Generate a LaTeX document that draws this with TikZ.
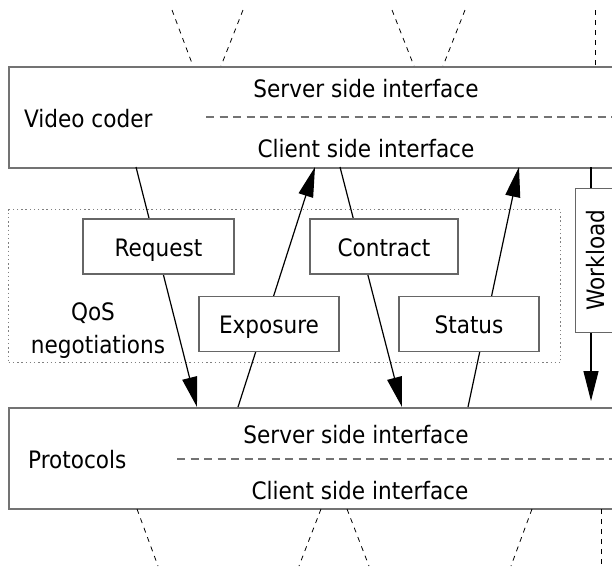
\documentclass[tikz,border=0pt]{standalone}
\usepackage{fontspec}
\setmainfont{DejaVu Sans Condensed}
\usetikzlibrary{arrows.meta}

\tikzset{
  layerbox/.style={draw=black!55, line width=1.5pt, fill=white, anchor=north west,
    minimum width=640pt, minimum height=101pt, inner sep=0pt},
  txt/.style={font=\fontsize{24}{28}\selectfont, anchor=base, inner sep=0pt},
  msgbox/.style={draw=black!60, line width=1.3pt, fill=white,
    font=\fontsize{24}{28}\selectfont, minimum height=55pt,
    text height=21pt, text depth=2pt, inner sep=0pt},
  msgflow/.style={line width=1.2pt, -{Triangle[length=30pt,width=15pt]}},
  divider/.style={draw=black!55, line width=1.2pt, dash pattern=on 8pt off 5.5pt},
  stubline/.style={line width=0.8pt, dash pattern=on 5pt off 5pt},
  qosgroup/.style={draw=black!50, line width=1.4pt, dash pattern=on 1.4pt off 2.8pt},
}

\begin{document}
\begin{tikzpicture}[x=1pt,y=-1pt]
\useasboundingbox (0,0) rectangle (612,566);
\begin{scope}
\clip (0,0) rectangle (612,566);

% upper and lower layers
\node[layerbox] (coder) at (8,66) {};
\node[layerbox] (proto) at (8,407) {};

% connections continuing above the coder and below the protocols
\coordinate (ta1) at (172,10);  \coordinate (tb1) at (193,66);
\coordinate (ta2) at (243,10);  \coordinate (tb2) at (221,66);
\coordinate (ta3) at (392,10);  \coordinate (tb3) at (414,66);
\coordinate (ta4) at (465,10);  \coordinate (tb4) at (443,66);
\coordinate (ta5) at (595,10);  \coordinate (tb5) at (595,66);
\foreach \i in {1,...,5} \draw[stubline] (ta\i) -- (tb\i);

\coordinate (ba1) at (137,509); \coordinate (bb1) at (158,566);
\coordinate (ba2) at (321,509); \coordinate (bb2) at (299,566);
\coordinate (ba3) at (347,509); \coordinate (bb3) at (369,566);
\coordinate (ba4) at (532,509); \coordinate (bb4) at (511,566);
\coordinate (ba5) at (601,509); \coordinate (bb5) at (601,566);
\foreach \i in {1,...,5} \draw[stubline] (ba\i) -- (bb\i);

% layer texts
\node[txt] (cs) at (366,97) {Server side interface};
\node[txt, anchor=base west] (cn) at (24,127) {Video coder};
\node[txt] (cc) at (366,157) {Client side interface};
\draw[divider] (206,117) -- (620,117);

\node[txt] (ps) at (356,443) {Server side interface};
\node[txt, anchor=base west] (pn) at (28,468) {Protocols};
\node[txt] (pc) at (360,499) {Client side interface};
\draw[divider] (177,459) -- (620,459);

% QoS negotiation group
\node[qosgroup, minimum width=552pt, minimum height=153pt, anchor=north west, inner sep=0pt] (qos) at (8,209) {};
\node[txt] (q1) at (93,320) {QoS};
\node[txt] (q2) at (98,353) {negotiations};

% message flows between the layers
\coordinate (reqA) at (136,167); \coordinate (reqB) at (197,407);
\coordinate (expA) at (238,407); \coordinate (expB) at (315,167);
\coordinate (conA) at (340,167); \coordinate (conB) at (402,407);
\coordinate (staA) at (468,407); \coordinate (staB) at (519,167);
\coordinate (wlA)  at (591,167); \coordinate (wlB)  at (591,401);
\draw[msgflow] (reqA) -- (reqB);
\draw[msgflow] (expA) -- (expB);
\draw[msgflow] (conA) -- (conB);
\draw[msgflow] (staA) -- (staB);
\draw[msgflow] (wlA) -- (wlB);

% message boxes
\node[msgbox, minimum width=151pt] (request)  at (158.5,246.5) {Request};
\node[msgbox, minimum width=148pt] (contract) at (384,246.5) {Contract};
\node[msgbox, minimum width=140pt] (exposure) at (269,324) {Exposure};
\node[msgbox, minimum width=140pt] (status)   at (469,324) {Status};

% workload box
\node[draw=black!60, line width=1.3pt, fill=white, anchor=north west,
  minimum width=60pt, minimum height=144pt, inner sep=0pt] (wlbox) at (575,188) {};
\node[rotate=90, font=\fontsize{24}{28}\selectfont, inner sep=0pt] (wl) at (596,260) {Workload};
\end{scope}
\end{tikzpicture}
\end{document}
